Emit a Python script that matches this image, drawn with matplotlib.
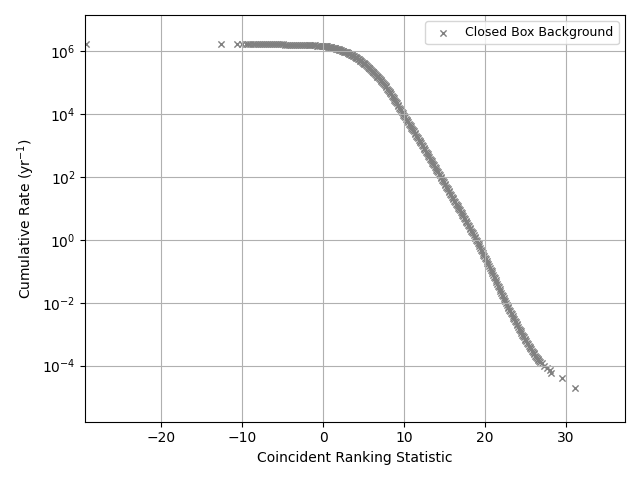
"""Cumulative background rate vs coincident ranking statistic (closed box)."""

import matplotlib

matplotlib.use("Agg")
import matplotlib.pyplot as plt
import numpy as np

# Sparse high-rate points on the far left of the plateau
tail_low_stat = [-29.3, -12.6, -10.6, -10.0, -9.6, -9.3, -9.0, -8.7, -8.4, -8.2, -8.0]
tail_low_log_rate = [6.22, 6.22, 6.22, 6.22, 6.22, 6.22, 6.22, 6.22, 6.22, 6.22, 6.22]

# Plateau (log10 of rate in 1/yr)
plateau_stat = [
    -7.75, -7.5, -7.25, -7.0, -6.75, -6.5, -6.25, -6.0, -5.75, -5.5, -5.25, -5.0,
    -4.75, -4.5, -4.25, -4.0, -3.75, -3.5, -3.25, -3.0, -2.75, -2.5, -2.25, -2.0,
    -1.8, -1.6, -1.4, -1.2, -1.0, -0.8, -0.6, -0.4, -0.2,
]
plateau_log_rate = [
    6.22, 6.22, 6.22, 6.21, 6.21, 6.21, 6.21, 6.21, 6.21, 6.21, 6.21, 6.21,
    6.20, 6.20, 6.20, 6.20, 6.20, 6.20, 6.20, 6.20, 6.19, 6.19, 6.19, 6.19,
    6.19, 6.19, 6.18, 6.18, 6.18, 6.17, 6.17, 6.17, 6.16,
]

# Falling part of the curve (log10 of rate in 1/yr)
falloff_stat = [
    0.0, 0.1, 0.2, 0.3, 0.4, 0.5, 0.6, 0.7, 0.8, 0.9,
    1.0, 1.1, 1.2, 1.3, 1.4, 1.5, 1.6, 1.7, 1.8, 1.9,
    2.0, 2.1, 2.2, 2.3, 2.4, 2.5, 2.6, 2.7, 2.8, 2.9,
    3.0, 3.1, 3.2, 3.3, 3.4, 3.5, 3.6, 3.7, 3.8, 3.9,
    4.0, 4.1, 4.2, 4.3, 4.4, 4.5, 4.6, 4.7, 4.8, 4.9,
    5.0, 5.1, 5.2, 5.3, 5.4, 5.5, 5.6, 5.7, 5.8, 5.9,
    6.0, 6.1, 6.2, 6.3, 6.4, 6.5, 6.6, 6.7, 6.8, 6.9,
    7.0, 7.1, 7.2, 7.3, 7.4, 7.5, 7.6, 7.7, 7.8, 7.9,
    8.0, 8.1, 8.2, 8.3, 8.4, 8.5, 8.6, 8.7, 8.8, 8.9,
    9.0, 9.1, 9.2, 9.3, 9.4, 9.5, 9.6, 9.7, 9.8, 9.9,
    10.0, 10.1, 10.2, 10.3, 10.4, 10.5, 10.6, 10.7, 10.8, 10.9,
    11.0, 11.1, 11.2, 11.3, 11.4, 11.5, 11.6, 11.7, 11.8, 11.9,
    12.0, 12.1, 12.2, 12.3, 12.4, 12.5, 12.6, 12.7, 12.8, 12.9,
    13.0, 13.1, 13.2, 13.3, 13.4, 13.5, 13.6, 13.7, 13.8, 13.9,
    14.0, 14.1, 14.2, 14.3, 14.4, 14.5, 14.6, 14.7, 14.8, 14.9,
    15.0, 15.1, 15.2, 15.3, 15.4, 15.5, 15.6, 15.7, 15.8, 15.9,
    16.0, 16.1, 16.2, 16.3, 16.4, 16.5, 16.6, 16.7, 16.8, 16.9,
    17.0, 17.1, 17.2, 17.3, 17.4, 17.5, 17.6, 17.7, 17.8, 17.9,
    18.0, 18.1, 18.2, 18.3, 18.4, 18.5, 18.6, 18.7, 18.8, 18.9,
    19.0, 19.1, 19.2, 19.3, 19.4, 19.5, 19.6, 19.7, 19.8, 19.9,
    20.0, 20.1, 20.2, 20.3, 20.4, 20.5, 20.6, 20.7, 20.8, 20.9,
    21.0, 21.1, 21.2, 21.3, 21.4, 21.5, 21.6, 21.7, 21.8, 21.9,
    22.0, 22.1, 22.2, 22.3, 22.4, 22.5, 22.6, 22.7, 22.8, 22.9,
    23.0, 23.1, 23.2, 23.3, 23.4, 23.5, 23.6, 23.7, 23.8, 23.9,
    24.0, 24.1, 24.2, 24.3, 24.4, 24.5, 24.6, 24.7, 24.8, 24.9,
    25.0, 25.1, 25.2, 25.3, 25.4, 25.5, 25.6, 25.7, 25.8, 25.9,
    26.0, 26.1, 26.2, 26.3, 26.4, 26.5, 26.6, 26.7, 26.8,
]
falloff_log_rate = [
    6.16, 6.16, 6.15, 6.15, 6.14, 6.14, 6.13, 6.13, 6.12, 6.12,
    6.11, 6.10, 6.10, 6.09, 6.09, 6.08, 6.07, 6.06, 6.06, 6.05,
    6.04, 6.03, 6.02, 6.01, 6.00, 5.99, 5.98, 5.97, 5.96, 5.95,
    5.94, 5.93, 5.91, 5.90, 5.88, 5.87, 5.86, 5.84, 5.83, 5.81,
    5.80, 5.78, 5.76, 5.75, 5.73, 5.71, 5.69, 5.67, 5.65, 5.63,
    5.61, 5.59, 5.57, 5.54, 5.52, 5.50, 5.47, 5.45, 5.42, 5.40,
    5.37, 5.34, 5.32, 5.29, 5.27, 5.24, 5.21, 5.18, 5.16, 5.13,
    5.10, 5.07, 5.04, 5.00, 4.97, 4.94, 4.91, 4.87, 4.84, 4.80,
    4.77, 4.73, 4.69, 4.66, 4.62, 4.58, 4.54, 4.50, 4.45, 4.41,
    4.37, 4.33, 4.28, 4.24, 4.19, 4.15, 4.11, 4.06, 4.02, 3.97,
    3.93, 3.89, 3.85, 3.81, 3.77, 3.73, 3.69, 3.65, 3.60, 3.56,
    3.52, 3.48, 3.44, 3.39, 3.35, 3.31, 3.27, 3.23, 3.18, 3.14,
    3.10, 3.06, 3.02, 2.97, 2.93, 2.89, 2.85, 2.80, 2.76, 2.71,
    2.67, 2.63, 2.58, 2.54, 2.49, 2.45, 2.41, 2.36, 2.32, 2.27,
    2.23, 2.18, 2.14, 2.09, 2.05, 2.00, 1.96, 1.91, 1.87, 1.82,
    1.78, 1.73, 1.69, 1.64, 1.60, 1.55, 1.51, 1.46, 1.42, 1.37,
    1.33, 1.29, 1.24, 1.20, 1.15, 1.11, 1.06, 1.02, 0.97, 0.93,
    0.88, 0.84, 0.79, 0.75, 0.70, 0.66, 0.61, 0.57, 0.52, 0.48,
    0.43, 0.38, 0.34, 0.29, 0.25, 0.20, 0.15, 0.10, 0.05, 0.00,
    -0.05, -0.10, -0.15, -0.21, -0.26, -0.31, -0.36, -0.41, -0.47, -0.52,
    -0.57, -0.62, -0.67, -0.73, -0.78, -0.83, -0.89, -0.95, -1.00, -1.06,
    -1.12, -1.18, -1.23, -1.29, -1.34, -1.40, -1.46, -1.51, -1.57, -1.62,
    -1.68, -1.74, -1.79, -1.85, -1.90, -1.96, -2.01, -2.06, -2.12, -2.17,
    -2.22, -2.27, -2.32, -2.37, -2.42, -2.47, -2.52, -2.57, -2.62, -2.67,
    -2.72, -2.77, -2.82, -2.86, -2.91, -2.96, -3.01, -3.05, -3.10, -3.14,
    -3.19, -3.23, -3.27, -3.32, -3.36, -3.40, -3.44, -3.48, -3.52, -3.56,
    -3.60, -3.64, -3.68, -3.71, -3.75, -3.79, -3.82, -3.85, -3.88,
]

# Sparse low-rate points past the end of the dense band
tail_high_stat = [27.0, 27.3, 27.6, 28.0, 28.1, 29.5, 31.1]
tail_high_log_rate = [-3.92, -4.00, -4.06, -4.15, -4.22, -4.39, -4.71]

stat = np.array(tail_low_stat + plateau_stat + falloff_stat + tail_high_stat)
rate = 10.0 ** np.array(tail_low_log_rate + plateau_log_rate
                        + falloff_log_rate + tail_high_log_rate)

fig, ax = plt.subplots(figsize=(6.4, 4.8), dpi=100)
ax.scatter(stat, rate, marker="x", s=20, color="gray", linewidths=1.0,
           label="Closed Box Background")
ax.set_yscale("log")
ax.set_xlim(-29.4, 37.3)
ax.set_ylim(10 ** -5.78, 10 ** 7.14)
ax.set_xlabel("Coincident Ranking Statistic")
ax.set_ylabel("Cumulative Rate (yr$^{-1}$)")
ax.grid(True)
ax.legend(loc="upper right", fontsize=9)
fig.tight_layout()
fig.savefig("out.png", dpi=100)
